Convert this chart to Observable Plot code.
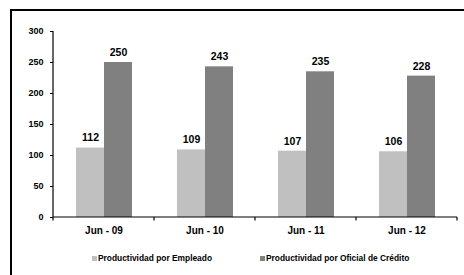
<!DOCTYPE html>
<html>
<head>
<meta charset="utf-8">
<script src="https://cdn.jsdelivr.net/npm/d3@7"></script>
<script src="https://cdn.jsdelivr.net/npm/@observablehq/plot@0.6"></script>
<style>
  html, body { margin: 0; padding: 0; background: #fff; overflow: hidden; width: 464px; height: 275px; }
  body { position: relative; font-family: "Liberation Sans", Arial, sans-serif; }
  #frame { position: absolute; left: 10px; top: 9px; width: 600px; height: 400px;
           border-left: 2px solid #000; border-top: 2px solid #000; box-sizing: border-box; }
  #chart { position: absolute; left: 0; top: 0; }
  .leg { position: absolute; top: 253px; display: flex; align-items: center; font-size: 8.4px; font-weight: bold; color: #000; white-space: nowrap; }
  .sw { width: 5px; height: 5px; margin-right: 1px; }
</style>
</head>
<body>
<div id="frame"></div>
<div id="chart"></div>
<div class="leg" id="leg0" style="left:92px"><span class="sw"></span><span></span></div>
<div class="leg" id="leg1" style="left:260px"><span class="sw"></span><span></span></div>
<script>
const categories = ["Jun - 09", "Jun - 10", "Jun - 11", "Jun - 12"];
const seriesNames = ["Productividad por Empleado", "Productividad por Oficial de Crédito"];
const empleado = [112, 109, 107, 106];
const oficial = [250, 243, 235, 228];
const yTicks = [0, 50, 100, 150, 200, 250, 300];
const colors = ["#c0c0c0", "#808080"];

const rows = [];
categories.forEach((c, i) => {
  rows.push({cat: c, series: seriesNames[0], value: empleado[i]});
  rows.push({cat: c, series: seriesNames[1], value: oficial[i]});
});

const chart = Plot.plot({
  width: 464,
  height: 240,
  marginTop: 31,
  marginBottom: 23,
  marginLeft: 52,
  marginRight: 6,
  style: {fontFamily: "'Liberation Sans', Arial, sans-serif", fontSize: "9px", fontWeight: "bold", background: "transparent", color: "#000"},
  fx: {domain: categories, padding: 0, label: null, axis: null},
  x: {domain: seriesNames, paddingInner: 0, paddingOuter: 0.75, axis: null, label: null},
  y: {domain: [0, 300], ticks: yTicks, tickSize: 3, tickPadding: 7, label: null},
  color: {domain: seriesNames, range: colors},
  marks: [
    Plot.axisFx({anchor: "bottom", tickSize: 0, tickPadding: 9, fontSize: 10, label: null}),
    Plot.barY(rows, {fx: "cat", x: "series", y: "value", fill: "series"}),
    Plot.text(rows, {fx: "cat", x: "series", y: "value", text: d => String(d.value), dy: -10, fontSize: 10.5, fontWeight: "bold", fill: "#000"})
  ]
});
document.getElementById("chart").appendChild(chart);

// axis lines and category boundary ticks, positioned via the chart's own scales
const fx = chart.scale("fx"), y = chart.scale("y");
const svg = d3.select(chart);
const y0 = y.apply(0), yTop = y.apply(300);
const x0 = fx.apply(categories[0]);
const bw = fx.bandwidth;
const xEnd = fx.apply(categories[categories.length - 1]) + bw;
const g = svg.append("g").attr("stroke", "#000").attr("stroke-width", 1.2);
g.append("line").attr("x1", x0).attr("x2", x0).attr("y1", y0).attr("y2", yTop);
g.append("line").attr("x1", x0).attr("x2", xEnd).attr("y1", y0).attr("y2", y0);
const bounds = categories.map(c => fx.apply(c)).concat([xEnd]);
bounds.forEach(b => g.append("line").attr("x1", b).attr("x2", b).attr("y1", y0).attr("y2", y0 + 3.5));

// legend
seriesNames.forEach((s, i) => {
  const el = document.getElementById("leg" + i);
  el.children[0].style.background = colors[i];
  el.children[1].textContent = s;
});
</script>
</body>
</html>
